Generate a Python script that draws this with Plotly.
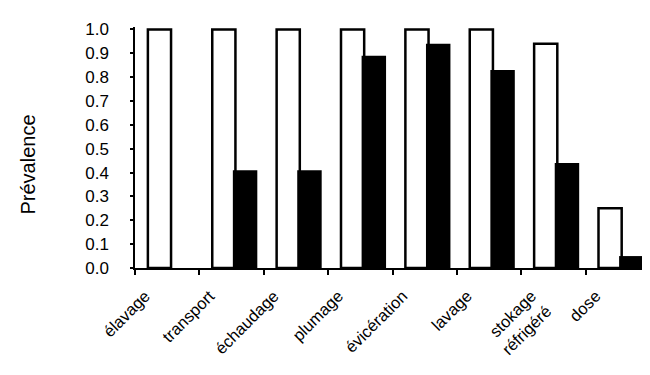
import plotly.graph_objects as go

categories = ["élavage", "transport", "échaudage", "plumage", "évicération",
              "lavage", "stokage<br>réfrigéré", "dose"]
white_values = [1.0, 1.0, 1.0, 1.0, 1.0, 1.0, 0.94, 0.25]
black_values = [0.0, 0.41, 0.41, 0.89, 0.94, 0.83, 0.44, 0.05]
y_tick_values = [0.0, 0.1, 0.2, 0.3, 0.4, 0.5, 0.6, 0.7, 0.8, 0.9, 1.0]
y_tick_labels = ["0.0", "0.1", "0.2", "0.3", "0.4", "0.5", "0.6", "0.7", "0.8", "0.9", "1.0"]
y_title = "Prévalence"

FONT = "Liberation Sans, Arial, sans-serif"

fig = go.Figure()
fig.add_trace(go.Bar(
    x=categories, y=white_values, offset=-0.30, width=0.36,
    marker=dict(color="white", line=dict(color="black", width=2.5)),
    hoverinfo="skip"))
fig.add_trace(go.Bar(
    x=categories, y=black_values, offset=0.02, width=0.38,
    marker=dict(color="black", line=dict(color="black", width=0)),
    hoverinfo="skip"))

W, H = 650, 375
ml, mr, mt, mb = 127, 8, 19, 115
plot_w = W - ml - mr
plot_h = H - mt - mb

fig.update_layout(
    width=W, height=H,
    margin=dict(l=ml, r=mr, t=mt, b=mb, pad=0, autoexpand=False),
    barmode="overlay",
    showlegend=False,
    plot_bgcolor="white", paper_bgcolor="white",
    font=dict(family=FONT, color="black"),
    xaxis=dict(
        type="category", range=[-0.5, 7.5], automargin=False,
        showline=True, linecolor="black", linewidth=2,
        ticks="outside", tickson="boundaries", ticklen=5, tickwidth=1.5,
        tickcolor="black",
        tickangle=-45, tickfont=dict(size=16.5, family=FONT),
        ticklabelstandoff=10, ticklabelshift=-22,
        showgrid=False, zeroline=False,
    ),
    yaxis=dict(
        range=[0, 1.01], automargin=False,
        tickmode="array", tickvals=y_tick_values, ticktext=y_tick_labels,
        showline=True, linecolor="black", linewidth=1.5,
        ticks="outside", ticklen=3, tickwidth=1.5, tickcolor="black",
        tickfont=dict(size=17, family=FONT),
        ticklabelstandoff=18,
        showgrid=False, zeroline=False,
    ),
    annotations=[dict(
        text=y_title, textangle=-90,
        xref="paper", yref="paper",
        x=(19 - ml) / plot_w, y=((H - mb) - 156.5) / plot_h,
        xanchor="center", yanchor="middle", showarrow=False,
        font=dict(size=20, family=FONT, color="black"),
    )],
)

fig.write_html("out.html")
